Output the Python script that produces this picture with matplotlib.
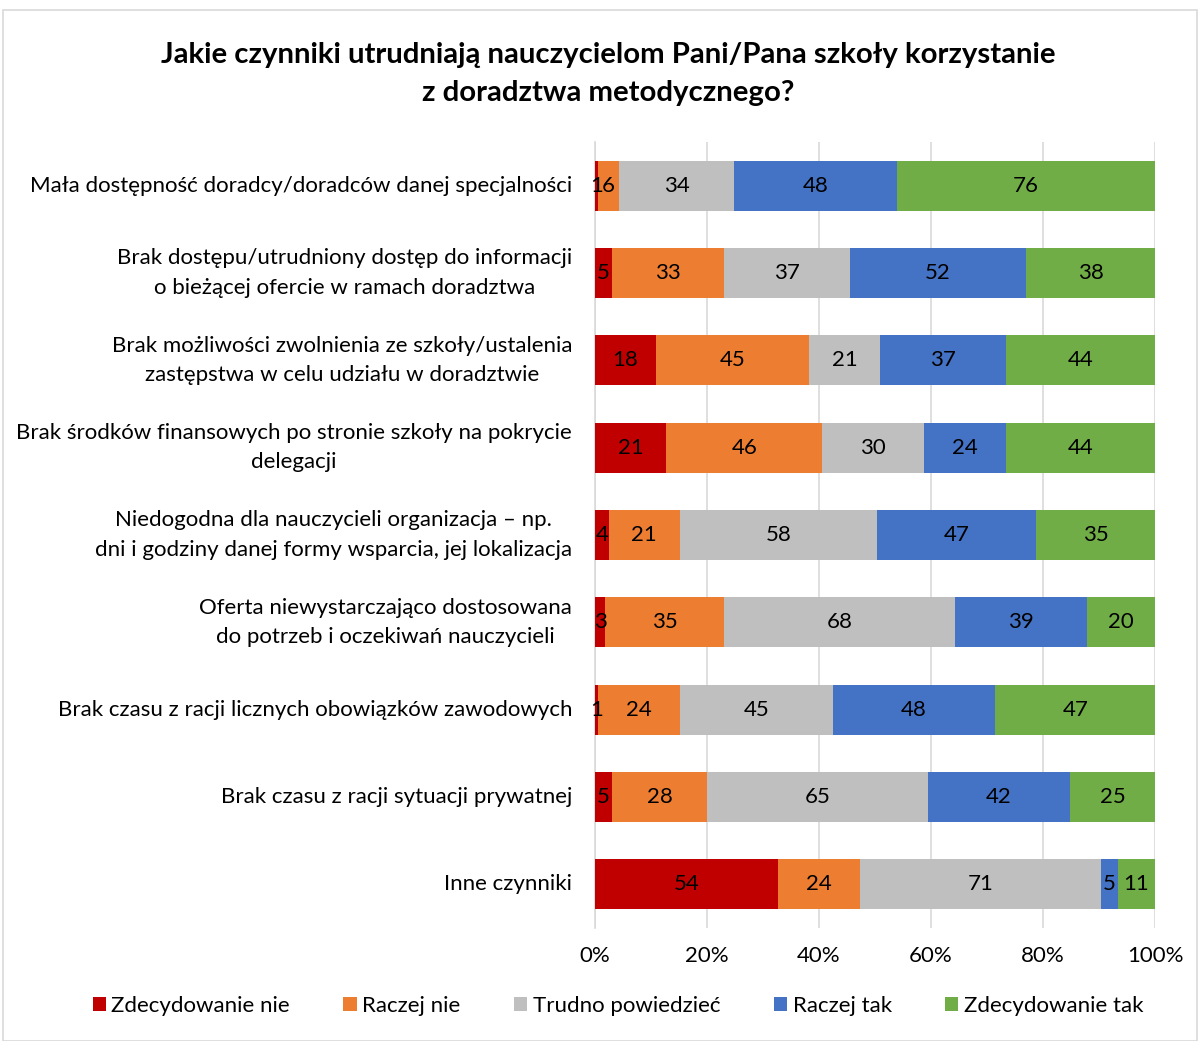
import numpy as np
import matplotlib
matplotlib.use("Agg")
import matplotlib.pyplot as plt
from matplotlib.patches import Rectangle

plt.rcParams['font.family'] = ['Lato', 'DejaVu Sans']

categories = [
    "Mała dostępność doradcy/doradców danej specjalności",
    "Brak dostępu/utrudniony dostęp do informacji\no bieżącej ofercie w ramach doradztwa",
    "Brak możliwości zwolnienia ze szkoły/ustalenia\nzastępstwa w celu udziału w doradztwie",
    "Brak środków finansowych po stronie szkoły na pokrycie\ndelegacji",
    "Niedogodna dla nauczycieli organizacja – np.\ndni i godziny danej formy wsparcia, jej lokalizacja",
    "Oferta niewystarczająco dostosowana\ndo potrzeb i oczekiwań nauczycieli",
    "Brak czasu z racji licznych obowiązków zawodowych",
    "Brak czasu z racji sytuacji prywatnej",
    "Inne czynniki",
]
series_names = ["Zdecydowanie nie", "Raczej nie", "Trudno powiedzieć", "Raczej tak", "Zdecydowanie tak"]
zdecydowanie_nie = [1, 5, 18, 21, 4, 3, 1, 5, 54]
raczej_nie = [6, 33, 45, 46, 21, 35, 24, 28, 24]
trudno = [34, 37, 21, 30, 58, 68, 45, 65, 71]
raczej_tak = [48, 52, 37, 24, 47, 39, 48, 42, 5]
zdecydowanie_tak = [76, 38, 44, 44, 35, 20, 47, 25, 11]
colors = ["#C00000", "#ED7D31", "#BFBFBF", "#4472C4", "#70AD47"]

data = np.array([zdecydowanie_nie, raczej_nie, trudno, raczej_tak, zdecydowanie_tak], dtype=float)
totals = data.sum(axis=0)
shares = data / totals

fs = 16

fig = plt.figure(figsize=(12, 10.41), dpi=100)
ax = fig.add_axes([595/1200, 1-928/1041, 560/1200, 786/1041])

y = np.arange(len(categories))
left = np.zeros(len(categories))
for i, name in enumerate(series_names):
    ax.barh(y, shares[i], left=left, height=0.57, color=colors[i], label=name, zorder=3)
    for j in range(len(categories)):
        ax.text(left[j] + shares[i][j] / 2, y[j], f"{int(data[i][j])}",
                ha="center", va="center", fontsize=fs, color="#000000", zorder=4)
    left += shares[i]

ax.set_ylim(len(categories) - 0.5, -0.5)
ax.set_xlim(0, 1)
ax.set_yticks(y)
ax.set_yticklabels(categories, fontsize=fs, ha="right", va="center",
                   multialignment="center", linespacing=1.6)
ax.set_xticks(np.linspace(0, 1, 6))
ax.set_xticklabels([f"{v}%" for v in range(0, 101, 20)], fontsize=fs)
ax.tick_params(axis="x", length=0, pad=13)
ax.tick_params(axis="y", length=0, pad=16.5)
ax.grid(axis="x", color="#D9D9D9", linewidth=1.2, zorder=0)
for s in ["top", "right", "bottom"]:
    ax.spines[s].set_visible(False)
ax.spines["left"].set_color("#D9D9D9")
ax.spines["left"].set_linewidth(1.2)

fig.text(0.507, 1-74/1041, "Jakie czynniki utrudniają nauczycielom Pani/Pana szkoły korzystanie\nz doradztwa metodycznego?",
         ha="center", va="center", fontsize=21.2, fontweight="bold", linespacing=1.55)

fig.legend(loc="center", bbox_to_anchor=(0.515, 1-1006/1041), ncol=5, frameon=False,
           fontsize=fs, handlelength=0.6, handleheight=0.6, handletextpad=0.25, columnspacing=2.4)

fig.patches.append(Rectangle((3/1200, 0), 1194/1200, 1-10/1041, transform=fig.transFigure,
                             fill=False, edgecolor="#D9D9D9", linewidth=1.2))

fig.savefig("out.png", dpi=100)
